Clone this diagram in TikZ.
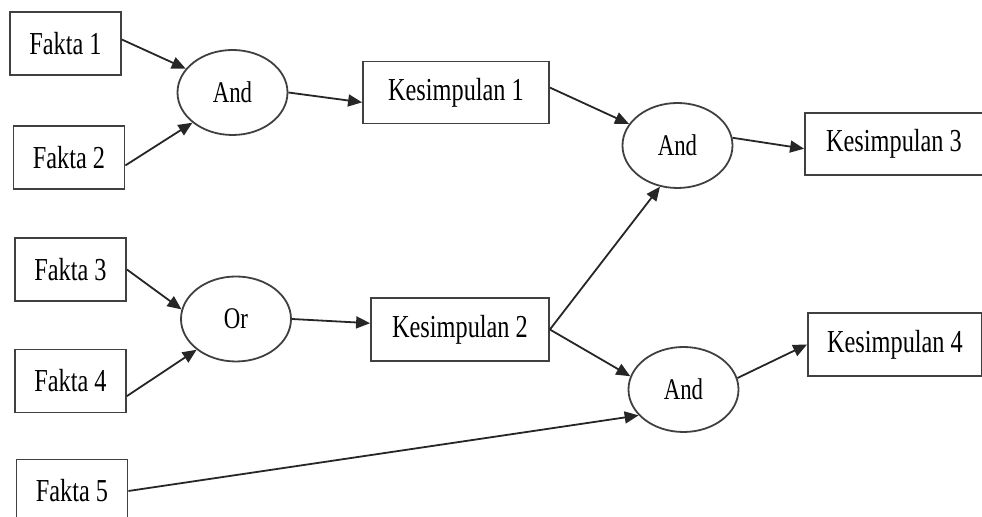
\documentclass[tikz,border=0pt]{standalone}
\usepackage{fontspec}
\setmainfont{Liberation Serif}[FakeStretch=0.76]
\usepackage{tikz}
\usetikzlibrary{shapes}
\usetikzlibrary{arrows.meta}

\begin{document}
\begin{tikzpicture}[x=0.5pt, y=-0.5pt,
    fakta/.style={rectangle, draw=black!75, line width=0.9pt, inner sep=0pt,
        minimum width=55.5pt, minimum height=31.5pt, font=\fontsize{16}{19}\selectfont},
    kesimpulan/.style={fakta, minimum height=31pt},
    gerbang/.style={ellipse, draw=black!75, line width=0.9pt, inner sep=0pt,
        minimum width=55pt, minimum height=42.5pt, font=\fontsize{15}{18}\selectfont},
    panah/.style={draw=black!85, line width=0.9pt, -{Triangle[length=7pt,width=6pt]}}]

    \useasboundingbox (0,0) rectangle (982,517);
    \clip (0,0) rectangle (982,517);

    \node[fakta] (f1) at (65.5,43.5) {Fakta 1};
    \node[fakta] (f2) at (69,157.5) {Fakta 2};
    \node[fakta] (f3) at (70.5,269.5) {Fakta 3};
    \node[fakta] (f4) at (70.5,381) {Fakta 4};
    \node[fakta] (f5) at (72,491) {Fakta 5};

    \node[gerbang] (and1) at (232.5,92.5) {And};
    \node[gerbang] (or1) at (236,319) {Or};
    \node[gerbang] (and2) at (677.5,145.5) {And};
    \node[gerbang] (and3) at (683.5,389.5) {And};

    \node[kesimpulan, minimum width=93pt] (k1) at (456,92.5) {Kesimpulan 1};
    \node[kesimpulan, minimum width=89pt, minimum height=31.5pt] (k2) at (460,329.5) {Kesimpulan 2};
    \node[kesimpulan, minimum width=89pt] (k3) at (894,144) {Kesimpulan 3};
    \node[kesimpulan, minimum width=87pt, minimum height=31.5pt] (k4) at (895,344.5) {Kesimpulan 4};

    \draw[panah] (f1.4) -- (and1.153);
    \draw[panah] (f2.-8) -- (and1.217);
    \draw[panah] (and1.east) -- (k1.186);
    \draw[panah] (f3.east) -- (or1.170);
    \draw[panah] (f4.-15) -- (or1.218);
    \draw[panah] (or1.east) -- (k2.176);
    \draw[panah] (k1.3) -- (and2.156);
    \draw[panah] (and2.8) -- (k3.183);
    \draw[panah] (k2.east) -- (and2.247);
    \draw[panah] (k2.east) -- (and3.166);
    \draw[panah] (f5.east) -- (and3.210);
    \draw[panah] (and3.12) -- (k4.west);
\end{tikzpicture}
\end{document}
